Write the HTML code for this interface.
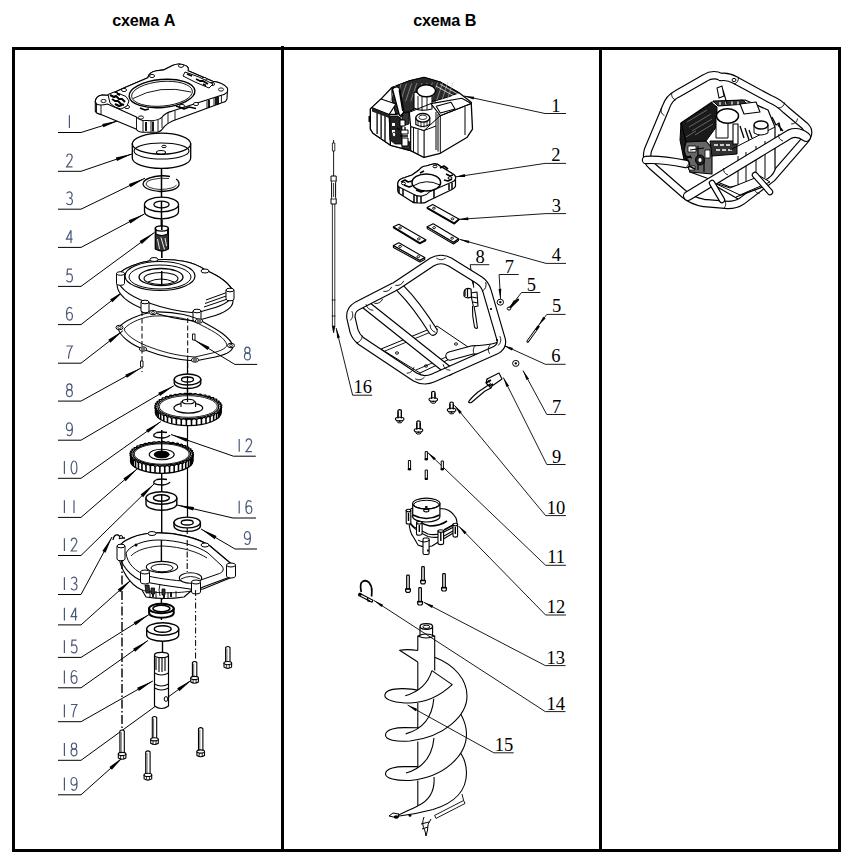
<!DOCTYPE html>
<html><head><meta charset="utf-8"><style>
html,body{margin:0;padding:0;background:#fff;width:856px;height:855px;overflow:hidden}
svg{position:absolute;left:0;top:0;display:block}
</style></head><body>
<svg width="856" height="855" viewBox="0 0 856 855">
<g fill="#000"><rect x="12" y="47" width="829" height="3"/><rect x="12" y="849" width="829" height="3"/><rect x="12" y="47" width="3" height="805"/><rect x="838" y="47" width="3" height="805"/><rect x="281" y="46" width="3" height="806"/><rect x="599" y="47" width="3" height="805"/></g>
<text transform="translate(112.3,25.6) scale(1,1.03)" font-family="Liberation Sans" font-weight="bold" font-size="16.2px" fill="#000">схема А</text>
<text transform="translate(413.3,25.6) scale(1,1.03)" font-family="Liberation Sans" font-weight="bold" font-size="16.2px" fill="#000">схема В</text>
<g transform="translate(66.4,115.1)" fill="none" stroke="#4a5878" stroke-width="1.2"><g transform="translate(0,0)"><path d="M3,0.2 V13"/></g></g>
<g transform="translate(66.4,153.9)" fill="none" stroke="#4a5878" stroke-width="1.2"><g transform="translate(0,0)"><path d="M0.3,3 C0.5,1 1.5,0.1 3,0.1 C4.8,0.1 5.8,1.4 5.8,3.2 C5.8,5.6 4,7.2 0.2,12.9 H6.1"/></g></g>
<g transform="translate(66.4,191.79999999999998)" fill="none" stroke="#4a5878" stroke-width="1.2"><g transform="translate(0,0)"><path d="M0.3,1.6 C1,0.5 2,0.1 3,0.1 C4.8,0.1 5.7,1.4 5.7,3.1 C5.7,5 4.4,6.2 2.5,6.2 C4.6,6.2 6,7.5 6,9.5 C6,11.7 4.7,12.9 3,12.9 C1.6,12.9 0.6,12.3 0,11.2"/></g></g>
<g transform="translate(66.4,230.0)" fill="none" stroke="#4a5878" stroke-width="1.2"><g transform="translate(0,0)"><path d="M4.6,13 V0.2 L0,9.2 H6.2"/></g></g>
<g transform="translate(66.4,269.0)" fill="none" stroke="#4a5878" stroke-width="1.2"><g transform="translate(0,0)"><path d="M5.6,0.2 H1.1 L0.6,5.6 C1.3,5.1 2.2,4.8 3,4.8 C4.9,4.8 6,6.3 6,8.8 C6,11.5 4.7,12.9 3,12.9 C1.7,12.9 0.7,12.3 0.1,11.2"/></g></g>
<g transform="translate(66.4,307.20000000000005)" fill="none" stroke="#4a5878" stroke-width="1.2"><g transform="translate(0,0)"><path d="M5.6,1.6 C5.1,0.6 4.1,0.1 3.1,0.1 C1.1,0.1 0.1,2.6 0.1,7 C0.1,11 1.3,12.9 3.1,12.9 C4.9,12.9 6,11.5 6,9.1 C6,6.8 4.8,5.3 3.1,5.3 C1.6,5.3 0.6,6.3 0.1,8"/></g></g>
<g transform="translate(66.4,345.8)" fill="none" stroke="#4a5878" stroke-width="1.2"><g transform="translate(0,0)"><path d="M0,0.2 H6 C3.6,3.6 2.3,8 2.1,13"/></g></g>
<g transform="translate(66.4,383.70000000000005)" fill="none" stroke="#4a5878" stroke-width="1.2"><g transform="translate(0,0)"><ellipse cx="3" cy="3.2" rx="2.6" ry="3.1"/><ellipse cx="3" cy="9.4" rx="2.95" ry="3.5"/></g></g>
<g transform="translate(66.4,422.8)" fill="none" stroke="#4a5878" stroke-width="1.2"><g transform="translate(0,0)"><path d="M0.5,11.5 C1,12.4 2,12.9 3,12.9 C5,12.9 6,10.5 6,6 C6,2.1 4.8,0.1 3,0.1 C1.2,0.1 0,1.6 0,4 C0,6.3 1.2,7.8 2.9,7.8 C4.4,7.8 5.5,6.7 6,5"/></g></g>
<g transform="translate(61.4,460.90000000000003)" fill="none" stroke="#4a5878" stroke-width="1.2"><g transform="translate(0,0)"><path d="M3,0.2 V13"/></g><g transform="translate(9.6,0)"><ellipse cx="3" cy="6.5" rx="2.9" ry="6.4"/></g></g>
<g transform="translate(61.4,500.0)" fill="none" stroke="#4a5878" stroke-width="1.2"><g transform="translate(0,0)"><path d="M3,0.2 V13"/></g><g transform="translate(9.6,0)"><path d="M3,0.2 V13"/></g></g>
<g transform="translate(61.4,538.1)" fill="none" stroke="#4a5878" stroke-width="1.2"><g transform="translate(0,0)"><path d="M3,0.2 V13"/></g><g transform="translate(9.6,0)"><path d="M0.3,3 C0.5,1 1.5,0.1 3,0.1 C4.8,0.1 5.8,1.4 5.8,3.2 C5.8,5.6 4,7.2 0.2,12.9 H6.1"/></g></g>
<g transform="translate(61.4,577.1)" fill="none" stroke="#4a5878" stroke-width="1.2"><g transform="translate(0,0)"><path d="M3,0.2 V13"/></g><g transform="translate(9.6,0)"><path d="M0.3,1.6 C1,0.5 2,0.1 3,0.1 C4.8,0.1 5.7,1.4 5.7,3.1 C5.7,5 4.4,6.2 2.5,6.2 C4.6,6.2 6,7.5 6,9.5 C6,11.7 4.7,12.9 3,12.9 C1.6,12.9 0.6,12.3 0,11.2"/></g></g>
<g transform="translate(61.4,607.5)" fill="none" stroke="#4a5878" stroke-width="1.2"><g transform="translate(0,0)"><path d="M3,0.2 V13"/></g><g transform="translate(9.6,0)"><path d="M4.6,13 V0.2 L0,9.2 H6.2"/></g></g>
<g transform="translate(61.4,640.0)" fill="none" stroke="#4a5878" stroke-width="1.2"><g transform="translate(0,0)"><path d="M3,0.2 V13"/></g><g transform="translate(9.6,0)"><path d="M5.6,0.2 H1.1 L0.6,5.6 C1.3,5.1 2.2,4.8 3,4.8 C4.9,4.8 6,6.3 6,8.8 C6,11.5 4.7,12.9 3,12.9 C1.7,12.9 0.7,12.3 0.1,11.2"/></g></g>
<g transform="translate(61.4,670.4)" fill="none" stroke="#4a5878" stroke-width="1.2"><g transform="translate(0,0)"><path d="M3,0.2 V13"/></g><g transform="translate(9.6,0)"><path d="M5.6,1.6 C5.1,0.6 4.1,0.1 3.1,0.1 C1.1,0.1 0.1,2.6 0.1,7 C0.1,11 1.3,12.9 3.1,12.9 C4.9,12.9 6,11.5 6,9.1 C6,6.8 4.8,5.3 3.1,5.3 C1.6,5.3 0.6,6.3 0.1,8"/></g></g>
<g transform="translate(61.4,704.3000000000001)" fill="none" stroke="#4a5878" stroke-width="1.2"><g transform="translate(0,0)"><path d="M3,0.2 V13"/></g><g transform="translate(9.6,0)"><path d="M0,0.2 H6 C3.6,3.6 2.3,8 2.1,13"/></g></g>
<g transform="translate(61.4,742.9)" fill="none" stroke="#4a5878" stroke-width="1.2"><g transform="translate(0,0)"><path d="M3,0.2 V13"/></g><g transform="translate(9.6,0)"><ellipse cx="3" cy="3.2" rx="2.6" ry="3.1"/><ellipse cx="3" cy="9.4" rx="2.95" ry="3.5"/></g></g>
<g transform="translate(61.4,777.4)" fill="none" stroke="#4a5878" stroke-width="1.2"><g transform="translate(0,0)"><path d="M3,0.2 V13"/></g><g transform="translate(9.6,0)"><path d="M0.5,11.5 C1,12.4 2,12.9 3,12.9 C5,12.9 6,10.5 6,6 C6,2.1 4.8,0.1 3,0.1 C1.2,0.1 0,1.6 0,4 C0,6.3 1.2,7.8 2.9,7.8 C4.4,7.8 5.5,6.7 6,5"/></g></g>
<g transform="translate(244.4,347.0)" fill="none" stroke="#4a5878" stroke-width="1.2"><g transform="translate(0,0)"><ellipse cx="3" cy="3.2" rx="2.6" ry="3.1"/><ellipse cx="3" cy="9.4" rx="2.95" ry="3.5"/></g></g>
<g transform="translate(236.2,438.8)" fill="none" stroke="#4a5878" stroke-width="1.2"><g transform="translate(0,0)"><path d="M3,0.2 V13"/></g><g transform="translate(9.6,0)"><path d="M0.3,3 C0.5,1 1.5,0.1 3,0.1 C4.8,0.1 5.8,1.4 5.8,3.2 C5.8,5.6 4,7.2 0.2,12.9 H6.1"/></g></g>
<g transform="translate(236.2,500.6)" fill="none" stroke="#4a5878" stroke-width="1.2"><g transform="translate(0,0)"><path d="M3,0.2 V13"/></g><g transform="translate(9.6,0)"><path d="M5.6,1.6 C5.1,0.6 4.1,0.1 3.1,0.1 C1.1,0.1 0.1,2.6 0.1,7 C0.1,11 1.3,12.9 3.1,12.9 C4.9,12.9 6,11.5 6,9.1 C6,6.8 4.8,5.3 3.1,5.3 C1.6,5.3 0.6,6.3 0.1,8"/></g></g>
<g transform="translate(244.4,531.6)" fill="none" stroke="#4a5878" stroke-width="1.2"><g transform="translate(0,0)"><path d="M0.5,11.5 C1,12.4 2,12.9 3,12.9 C5,12.9 6,10.5 6,6 C6,2.1 4.8,0.1 3,0.1 C1.2,0.1 0,1.6 0,4 C0,6.3 1.2,7.8 2.9,7.8 C4.4,7.8 5.5,6.7 6,5"/></g></g>
<g stroke="#000" stroke-width="1" fill="none"><path d="M58,132.5 H81 L119,120.5"/><path d="M58,171.3 H81 L132.5,153.8"/><path d="M58,209.2 H81 L145,178.2"/><path d="M58,247.4 H81 L144.5,213.9"/><path d="M58,286.4 H81 L154.4,232.5"/><path d="M58,324.6 H81 L124.6,290.4"/><path d="M58,363.2 H81 L122.8,330.8"/><path d="M58,401.1 H81 L141,368"/><path d="M58,440.2 H81 L173.8,385.8"/><path d="M58,478.3 H81 L160.9,421.5"/><path d="M58,517.4 H81 L137.4,468.7"/><path d="M58,555.5 H81 L154,484"/><path d="M58,594.5 H81 L112,537"/><path d="M58,624.9 H81 L131.6,579.6"/><path d="M58,657.4 H81 L149,614.6"/><path d="M58,687.8 H81 L148,640.4"/><path d="M58,721.7 H81 L152.8,681"/><path d="M58,760.3 H81 L192,679.7"/><path d="M58,794.8 H81 L123.3,757"/><path d="M257.2,364.4 H234.8 L194,339.7"/><path d="M255.8,456.2 H233.4 L171,434.5"/><path d="M256,518 H233 L177,505"/><path d="M257,549 H235 L201,529"/></g>
<polygon points="119.00,120.50 102.25,123.90 103.33,127.34" fill="#000"/><polygon points="132.50,153.80 115.82,157.57 116.98,160.97" fill="#000"/><polygon points="145.00,178.20 128.92,183.99 130.48,187.23" fill="#000"/><polygon points="144.50,213.90 128.62,220.24 130.30,223.42" fill="#000"/><polygon points="154.40,232.50 139.63,241.11 141.76,244.01" fill="#000"/><polygon points="124.60,290.40 110.11,299.48 112.34,302.31" fill="#000"/><polygon points="122.80,330.80 108.26,339.79 110.47,342.64" fill="#000"/><polygon points="141.00,368.00 125.25,374.64 126.98,377.79" fill="#000"/><polygon points="173.80,385.80 158.22,392.84 160.04,395.95" fill="#000"/><polygon points="160.90,421.50 146.00,429.88 148.09,432.82" fill="#000"/><polygon points="137.40,468.70 123.36,478.45 125.71,481.17" fill="#000"/><polygon points="154.00,484.00 140.60,494.61 143.11,497.18" fill="#000"/><polygon points="112.00,537.00 102.35,551.11 105.52,552.82" fill="#000"/><polygon points="131.60,579.60 117.73,589.60 120.13,592.28" fill="#000"/><polygon points="149.00,614.60 133.65,622.13 135.57,625.18" fill="#000"/><polygon points="148.00,640.40 133.08,648.75 135.16,651.69" fill="#000"/><polygon points="152.80,681.00 137.12,687.82 138.90,690.95" fill="#000"/><polygon points="192.00,679.70 177.19,688.23 179.30,691.15" fill="#000"/><polygon points="123.30,757.00 109.42,766.99 111.82,769.67" fill="#000"/><polygon points="194.00,339.70 207.61,350.04 209.47,346.96" fill="#000"/><polygon points="171.00,434.50 186.47,441.78 187.65,438.38" fill="#000"/><polygon points="177.00,505.00 193.15,510.60 193.97,507.09" fill="#000"/><polygon points="201.00,529.00 214.74,539.17 216.57,536.07" fill="#000"/>
<g stroke="#000" stroke-width="0.9" fill="none"><path d="M566,113.5 H545 L464.1,96"/><path d="M566,163.4 H545 L455.1,177"/><path d="M566,213.6 H546 L458.3,219.4"/><path d="M566,263.4 H546 L459.4,239.3"/><path d="M540.3,292.5 H521.5 L508.9,308.7"/><path d="M565.6,314.4 H546.8 L538.4,325.6"/><path d="M565.6,364.3 H545.4 L503.3,345.2"/><path d="M518.7,274.5 H499.1 L500.5,298.9"/><path d="M565.6,414.5 H546.8 L523,370.5"/><path d="M489.3,264.7 H470.2 L473.8,287.7"/><path d="M565.6,464.5 H546.8 L503.3,377.5"/><path d="M565.9,515.6 H545.6 L454.4,405.3"/><path d="M565.9,565.3 H545.6 L427.7,452.4"/><path d="M565.9,615 H545.6 L458.6,526"/><path d="M565.5,665.6 H545.3 L423.7,602.2"/><path d="M565.5,711.6 H545.3 L374,600.5"/><path d="M513.7,752.8 H493.8 L407.6,705.1"/><path d="M372.2,395.2 H352.6 L336.2,328.1"/></g>
<polygon points="464.10,96.00 473.58,99.48 474.17,96.75" fill="#000"/><polygon points="455.10,177.00 465.20,176.89 464.78,174.12" fill="#000"/><polygon points="458.30,219.40 468.37,220.14 468.19,217.34" fill="#000"/><polygon points="459.40,239.30 468.66,243.33 469.41,240.63" fill="#000"/><polygon points="508.90,308.70 516.14,301.67 513.93,299.95" fill="#000"/><polygon points="538.40,325.60 545.52,318.44 543.28,316.76" fill="#000"/><polygon points="503.30,345.20 511.83,350.61 512.99,348.06" fill="#000"/><polygon points="500.50,298.90 501.32,288.84 498.53,289.00" fill="#000"/><polygon points="523.00,370.50 526.53,379.96 528.99,378.63" fill="#000"/><polygon points="473.80,287.70 473.64,277.60 470.87,278.04" fill="#000"/><polygon points="503.30,377.50 506.52,387.07 509.02,385.82" fill="#000"/><polygon points="454.40,405.30 459.69,413.90 461.85,412.11" fill="#000"/><polygon points="427.70,452.40 433.95,460.33 435.89,458.31" fill="#000"/><polygon points="458.60,526.00 464.59,534.13 466.59,532.17" fill="#000"/><polygon points="423.70,602.20 431.92,608.06 433.21,605.58" fill="#000"/><polygon points="374.00,600.50 381.63,607.12 383.15,604.77" fill="#000"/><polygon points="407.60,705.10 415.67,711.17 417.03,708.72" fill="#000"/><polygon points="336.20,328.10 337.21,338.15 339.93,337.48" fill="#000"/>
<g font-family="Liberation Serif" font-size="18.5px" fill="#000" text-anchor="middle"><text x="555.9" y="111.5">1</text><text x="555.9" y="161.4">2</text><text x="556.4" y="211.6">3</text><text x="556.4" y="261.4">4</text><text x="531.3" y="290.5">5</text><text x="556.6" y="312.4">5</text><text x="555.9" y="362.3">6</text><text x="509.3" y="272.5">7</text><text x="556.6" y="412.5">7</text><text x="480.1" y="262.7">8</text><text x="556.6" y="462.5">9</text><text x="556.1" y="513.6">10</text><text x="556.1" y="563.3">11</text><text x="556.1" y="613">12</text><text x="555.8" y="663.6">13</text><text x="555.8" y="709.6">14</text><text x="504.1" y="750.8">15</text><text x="362.8" y="393.2">16</text></g>
<g stroke-linejoin="round"><path d="M95.3,101.4 Q96,96 102,95 L108,95.3 L125,87.4 L147.8,77.8 Q149,72 156.6,70.8 L163.6,69.9 L172.4,65.5 Q180,62 187.2,66.4 Q189,68 188.1,70.8 L212.7,81.3 Q224,83 227.5,88.3 L227,98.8 Q226,102 223.2,102.3 L172.4,121 Q166,124 162.7,128.6 Q160,132.5 156,132.3 L143,132.3 Q138,132 136,129 L101,114.6 Q96,113.5 95.3,111 Z" fill="#fff" stroke="#000" stroke-width="1.1"/><path d="M95.3,101.4 Q96,96 102,95 L108,95.3 L125,87.4 L147.8,77.8 Q149,72 156.6,70.8 L163.6,69.9 L172.4,65.5 Q180,62 187.2,66.4 Q189,68 188.1,70.8 L212.7,81.3 Q224,83 227.5,88.3 Q228,92 226.7,92.7 Q224,95 221.4,95.3 L172.4,111.1 Q165,113 162,117 Q159,120.5 151,120.7 L142,120.2 Q138,119 136.5,117 L107.5,104 Q100,106 96.5,104 Z" fill="#fff" stroke="#000" stroke-width="1.1"/><path d="M96.5,104 V112 M101,105 V114.6 M136.5,117 V129 M143,120.2 V132 M151,120.7 V132.3 M158,120 V131.5 M162,117 V128 M221.4,95.3 V102.5 M214,98 V105.5 M207,100.5 V108 M175,110.5 V120 M168,112.5 V123" fill="none" stroke="#000" stroke-width="0.9"/><path d="M146,122 V131 M153,121.5 V131.5 M209,100 v8 M216,97 v8 M218,96.5 v8" stroke="#000" stroke-width="1.8"/><ellipse cx="162" cy="93.5" rx="33" ry="14" fill="#fff" stroke="#000" stroke-width="1.4" transform="rotate(-5 162 93.5)"/><ellipse cx="162" cy="93.8" rx="30.5" ry="12.3" fill="none" stroke="#000" stroke-width="0.9" transform="rotate(-5 162 93.8)"/><path d="M133,98.5 Q160,84 191,92" fill="none" stroke="#000" stroke-width="0.9"/><ellipse cx="103.5" cy="101" rx="2.6" ry="1.6" fill="#fff" stroke="#000" stroke-width="0.9"/><ellipse cx="141" cy="117.5" rx="2.6" ry="1.6" fill="#fff" stroke="#000" stroke-width="0.9"/><ellipse cx="181" cy="65.8" rx="2.6" ry="1.6" fill="#fff" stroke="#000" stroke-width="0.9"/><ellipse cx="221" cy="89.5" rx="2.6" ry="1.6" fill="#fff" stroke="#000" stroke-width="0.9"/><ellipse cx="116" cy="94" rx="2.6" ry="1.6" fill="#fff" stroke="#000" stroke-width="0.9"/><ellipse cx="124" cy="90" rx="2.6" ry="1.6" fill="#fff" stroke="#000" stroke-width="0.9"/><ellipse cx="204" cy="79" rx="2.6" ry="1.6" fill="#fff" stroke="#000" stroke-width="0.9"/><ellipse cx="196" cy="104" rx="2.6" ry="1.6" fill="#fff" stroke="#000" stroke-width="0.9"/><ellipse cx="127" cy="107" rx="2.6" ry="1.6" fill="#fff" stroke="#000" stroke-width="0.9"/><ellipse cx="212" cy="84" rx="2.6" ry="1.6" fill="#fff" stroke="#000" stroke-width="0.9"/><ellipse cx="152" cy="76" rx="2.6" ry="1.6" fill="#fff" stroke="#000" stroke-width="0.9"/><ellipse cx="182" cy="106" rx="2.6" ry="1.6" fill="#fff" stroke="#000" stroke-width="0.9"/><path d="M108,94.5 L114,92 L120,94 L126,96.5 L129,101 L127,106 L121,109 L115,107 L110,103 Z" fill="#fff" stroke="#000" stroke-width="1"/><path d="M110,95 l4,2 l2,-1 l3,3 l3,0 l3,3 M112,99 l3,2 l3,0 l3,3 l3,1 M115,104 l4,2 l3,-1 M117,93.5 l3,1.5" fill="none" stroke="#000" stroke-width="2"/><path d="M185,72 L199,77 L213,84 L209,88 L195,82 L183,76 Z" fill="#fff" stroke="#000" stroke-width="1"/><path d="M187,74 l5,2 M196,79 l4,2 l3,0 l5,3 M203,84 l3,1.5" fill="none" stroke="#000" stroke-width="1.8"/><path d="M176,106 l8,3 l5,-2 l7,1.5 M140,108 l5,2 l4,-1" fill="none" stroke="#000" stroke-width="1.4"/><path d="M132.3,143.7 V157.89999999999998 A29.2,10.5 0 0 0 190.7,157.89999999999998 V143.7 Z" fill="#fff" stroke="#000" stroke-width="1.3"/><ellipse cx="161.5" cy="143.7" rx="29.2" ry="10.5" fill="#fff" stroke="#000" stroke-width="1.3"/><ellipse cx="161.5" cy="151" rx="27.5" ry="8" fill="none" stroke="#000" stroke-width="1.1"/><ellipse cx="161" cy="152.5" rx="4.5" ry="2" fill="none" stroke="#000" stroke-width="1.1"/><ellipse cx="164" cy="146.5" rx="2.2" ry="1.2" fill="none" stroke="#000" stroke-width="1"/><path d="M161.5,168 V232" stroke="#000" stroke-width="1.5"/><path d="M170,176.5 Q163,175 155,176.5 Q143,179 143,184 Q144,190 160,191.5 Q177,191 179,185 Q179.5,181 176,179" fill="none" stroke="#000" stroke-width="1.3"/><path d="M169,178.5 Q160,177.5 152,179.5 Q146,181 146,184 Q147,188.5 160,189.5 Q174,189 176.5,185" fill="none" stroke="#000" stroke-width="0.8"/><path d="M144.5,204.5 V211.5 A17,7.3 0 0 0 178.5,211.5 V204.5 Z" fill="#fff" stroke="#000" stroke-width="1.3"/><ellipse cx="161.5" cy="204.5" rx="17" ry="7.3" fill="#fff" stroke="#000" stroke-width="1.3"/><ellipse cx="161.5" cy="204.5" rx="7.6" ry="3.3" fill="#fff" stroke="#000" stroke-width="1.3"/><path d="M161.5,201 V232" stroke="#000" stroke-width="1.5"/><path d="M155.3,228 V249 Q161.8,253 168.4,249 V228 Z" fill="#333" stroke="#000" stroke-width="1.3"/><path d="M156,229 V234 Q161.8,237 167.6,234 V229 Z" fill="#fff" stroke="#000" stroke-width="1.2"/><ellipse cx="161.8" cy="228.5" rx="6.4" ry="2.6" fill="#fff" stroke="#000" stroke-width="1.4"/><path d="M157.5,239 l2,10 M161,237.5 l3.5,12 M165,238 l1.5,8" stroke="#fff" stroke-width="0.9" fill="none"/><path d="M161.8,220 V230 M161.8,251 V258" stroke="#000" stroke-width="1.6"/><path d="M117,276 V284 C117,296 130,304 146,310 C160,315 180,320 196,321 L210,317 C225,313 233,308 233,301 V293 C232,285 220,276 205,270 C195,262 175,258 154,260 C140,262 122,268 117,276 Z" fill="#fff" stroke="#000" stroke-width="1.1"/><path d="M117,276 C122,268 140,262 154,260 C175,258 195,262 205,270 C220,276 232,285 233,293 C233,300 225,305 210,309 L196,313 C180,312 160,307 146,302 C130,296 117,288 117,276 Z" fill="#fff" stroke="#000" stroke-width="1.1"/><path d="M206,300 L228,292 M205,303.5 L229,295 M204,307 L229,298.5" stroke="#000" stroke-width="1"/><ellipse cx="160" cy="276" rx="35" ry="14.5" fill="#fff" stroke="#000" stroke-width="1.2"/><ellipse cx="160" cy="277" rx="31" ry="12" fill="none" stroke="#000" stroke-width="1"/><ellipse cx="161" cy="277" rx="22" ry="8.5" fill="#fff" stroke="#000" stroke-width="1.3"/><ellipse cx="161" cy="278.5" rx="17" ry="6" fill="none" stroke="#000" stroke-width="1.1"/><path d="M148,282 Q161,276 174,282" fill="none" stroke="#000" stroke-width="1"/><path d="M161.7,271 V284" stroke="#000" stroke-width="1.5"/><path d="M116.5,273.5 V283.5 A4,1.8 0 0 0 124.5,283.5 V273.5 Z" fill="#fff" stroke="#000" stroke-width="1"/><ellipse cx="120.5" cy="273.5" rx="4" ry="1.8" fill="#fff" stroke="#000" stroke-width="1"/><path d="M141,302 V311 A4,1.8 0 0 0 149,311 V302 Z" fill="#fff" stroke="#000" stroke-width="1"/><ellipse cx="145" cy="302" rx="4" ry="1.8" fill="#fff" stroke="#000" stroke-width="1"/><path d="M193,311 V320 A4,1.8 0 0 0 201,320 V311 Z" fill="#fff" stroke="#000" stroke-width="1"/><ellipse cx="197" cy="311" rx="4" ry="1.8" fill="#fff" stroke="#000" stroke-width="1"/><path d="M226,290 V299 A4,1.8 0 0 0 234,299 V290 Z" fill="#fff" stroke="#000" stroke-width="1"/><ellipse cx="230" cy="290" rx="4" ry="1.8" fill="#fff" stroke="#000" stroke-width="1"/><ellipse cx="154" cy="259.5" rx="4" ry="2" fill="#fff" stroke="#000" stroke-width="1"/><ellipse cx="205" cy="271" rx="4" ry="2" fill="#fff" stroke="#000" stroke-width="1"/><path d="M142,311 V372" stroke="#000" stroke-width="1" stroke-dasharray="5,2.5"/><path d="M187.7,318 V372" stroke="#000" stroke-width="1" stroke-dasharray="5,2.5"/><path d="M118,328 C125,320 140,314 153,312 C175,311 195,316 205,323 C218,330 230,337 233,346 C233,352 222,356 210,358 L195,361 C175,360 158,355 145,350 C132,345 120,337 118,328 Z" fill="none" stroke="#000" stroke-width="1.1"/><path d="M124,329 C130,322 143,317 154,316 C174,315 193,320 203,326 C215,332 225,338 227,345 C226,349 218,352 208,354 L195,357 C176,356 160,351 147,346 C135,341 126,335 124,329 Z" fill="none" stroke="#000" stroke-width="0.9"/><ellipse cx="119.5" cy="327.5" rx="3.6" ry="2.2" fill="#fff" stroke="#000" stroke-width="1"/><ellipse cx="119.5" cy="327.5" rx="1.6" ry="1" fill="none" stroke="#000" stroke-width="0.8"/><ellipse cx="153" cy="312.5" rx="3.6" ry="2.2" fill="#fff" stroke="#000" stroke-width="1"/><ellipse cx="153" cy="312.5" rx="1.6" ry="1" fill="none" stroke="#000" stroke-width="0.8"/><ellipse cx="199" cy="321" rx="3.6" ry="2.2" fill="#fff" stroke="#000" stroke-width="1"/><ellipse cx="199" cy="321" rx="1.6" ry="1" fill="none" stroke="#000" stroke-width="0.8"/><ellipse cx="231" cy="345.5" rx="3.6" ry="2.2" fill="#fff" stroke="#000" stroke-width="1"/><ellipse cx="231" cy="345.5" rx="1.6" ry="1" fill="none" stroke="#000" stroke-width="0.8"/><ellipse cx="195" cy="360" rx="3.6" ry="2.2" fill="#fff" stroke="#000" stroke-width="1"/><ellipse cx="195" cy="360" rx="1.6" ry="1" fill="none" stroke="#000" stroke-width="0.8"/><ellipse cx="143" cy="349" rx="3.6" ry="2.2" fill="#fff" stroke="#000" stroke-width="1"/><ellipse cx="143" cy="349" rx="1.6" ry="1" fill="none" stroke="#000" stroke-width="0.8"/><rect x="192.5" y="334" width="2.5" height="6" fill="#fff" stroke="#000" stroke-width="0.9"/><rect x="140.5" y="361" width="2.5" height="6" fill="#fff" stroke="#000" stroke-width="0.9"/><path d="M187.5,360 V518" stroke="#000" stroke-width="1.2"/><path d="M174.2,379.5 V383.0 A13.3,5.5 0 0 0 200.8,383.0 V379.5 Z" fill="#fff" stroke="#000" stroke-width="1.3"/><ellipse cx="187.5" cy="379.5" rx="13.3" ry="5.5" fill="#fff" stroke="#000" stroke-width="1.3"/><ellipse cx="187.5" cy="379.5" rx="6" ry="2.5" fill="#fff" stroke="#000" stroke-width="1.3"/><path d="M187.5,376 V400" stroke="#000" stroke-width="1.2"/><path d="M155.5,406.5 V412.5 A32.8,13.1 0 0 0 221.10000000000002,412.5 V406.5 Z" fill="#fff" stroke="#000" stroke-width="1.3"/><path d="M221.04,407.27 v6.0 M220.34,409.31 v6.0 M218.84,411.27 v6.0 M216.60,413.12 v6.0 M213.65,414.81 v6.0 M210.09,416.29 v6.0 M205.98,417.53 v6.0 M201.44,418.50 v6.0 M196.58,419.18 v6.0 M191.51,419.54 v6.0 M186.37,419.58 v6.0 M181.27,419.30 v6.0 M176.35,418.70 v6.0 M171.71,417.80 v6.0 M167.49,416.63 v6.0 M163.78,415.20 v6.0 M160.68,413.56 v6.0 M158.25,411.75 v6.0 M156.56,409.81 v6.0 M155.66,407.78 v6.0" stroke="#000" stroke-width="1.6"/><polygon points="220.3,406.5 221.9,407.0 221.8,407.5 220.1,408.0 219.9,408.5 221.3,409.1 221.0,409.6 219.1,409.9 218.7,410.4 219.8,411.1 219.3,411.6 217.4,411.8 216.8,412.2 217.6,413.0 216.9,413.4 214.9,413.5 214.2,413.9 214.7,414.7 213.8,415.1 211.8,415.1 210.9,415.4 211.1,416.2 210.1,416.6 208.1,416.4 207.1,416.7 207.0,417.5 205.9,417.8 203.9,417.5 202.8,417.7 202.4,418.5 201.2,418.7 199.4,418.3 198.2,418.5 197.4,419.2 196.1,419.4 194.5,418.9 193.3,418.9 192.2,419.6 190.9,419.7 189.6,419.1 188.3,419.1 187.0,419.7 185.7,419.7 184.5,419.0 183.3,418.9 181.7,419.5 180.5,419.4 179.6,418.6 178.4,418.5 176.7,418.9 175.4,418.7 174.9,417.9 173.8,417.7 171.9,418.0 170.7,417.8 170.5,417.0 169.5,416.7 167.5,416.9 166.5,416.6 166.6,415.8 165.7,415.4 163.6,415.5 162.8,415.1 163.2,414.3 162.4,413.9 160.4,413.9 159.7,413.4 160.4,412.7 159.8,412.2 157.8,412.0 157.3,411.6 158.3,410.9 157.9,410.4 156.0,410.1 155.6,409.6 156.9,409.0 156.7,408.5 154.9,408.1 154.8,407.5 156.3,407.0 156.3,406.5 154.7,406.0 154.8,405.5 156.5,405.0 156.7,404.5 155.3,403.9 155.6,403.4 157.5,403.1 157.9,402.6 156.8,401.9 157.3,401.4 159.2,401.2 159.8,400.8 159.0,400.0 159.7,399.6 161.7,399.5 162.4,399.1 161.9,398.3 162.8,397.9 164.8,397.9 165.7,397.6 165.5,396.8 166.5,396.4 168.5,396.6 169.5,396.3 169.6,395.5 170.7,395.2 172.7,395.5 173.8,395.3 174.2,394.5 175.4,394.3 177.2,394.7 178.4,394.5 179.2,393.8 180.5,393.6 182.1,394.1 183.3,394.1 184.4,393.4 185.7,393.3 187.0,393.9 188.3,393.9 189.6,393.3 190.9,393.3 192.1,394.0 193.3,394.1 194.9,393.5 196.1,393.6 197.0,394.4 198.2,394.5 199.9,394.1 201.2,394.3 201.7,395.1 202.8,395.3 204.7,395.0 205.9,395.2 206.1,396.0 207.1,396.3 209.1,396.1 210.1,396.4 210.0,397.2 210.9,397.6 213.0,397.5 213.8,397.9 213.4,398.7 214.2,399.1 216.2,399.1 216.9,399.6 216.2,400.3 216.8,400.8 218.8,401.0 219.3,401.4 218.3,402.1 218.7,402.6 220.6,402.9 221.0,403.4 219.7,404.0 219.9,404.5 221.7,404.9 221.8,405.5 220.3,406.0" fill="#fff" stroke="#000" stroke-width="1.2"/><ellipse cx="188.3" cy="406.5" rx="30.5" ry="12.009375" fill="none" stroke="#000" stroke-width="1.2"/><ellipse cx="188.3" cy="406.5" rx="29" ry="10.8" fill="none" stroke="#000" stroke-width="0.9"/><ellipse cx="188.3" cy="408" rx="14.4" ry="5.2" fill="#fff" stroke="#000" stroke-width="1.2"/><path d="M181,407 V402 Q188.3,399 195.6,402 V407" fill="#fff" stroke="#000" stroke-width="1.1"/><ellipse cx="188.3" cy="401.5" rx="6" ry="2.3" fill="#fff" stroke="#000" stroke-width="1.1"/><path d="M187.5,390 V402" stroke="#000" stroke-width="1.2"/><path d="M167,432.5 Q162,431.5 157,432.5 Q153,434 154,436.5 Q157,438 163,438 Q169,437 170,435" fill="none" stroke="#000" stroke-width="1.3"/><path d="M161.7,430 V500" stroke="#000" stroke-width="1.4"/><path d="M130.59999999999997,454 V461 A31.1,12.3 0 0 0 192.8,461 V454 Z" fill="#fff" stroke="#000" stroke-width="1.3"/><path d="M192.75,454.72 v7.0 M192.08,456.64 v7.0 M190.66,458.48 v7.0 M188.53,460.22 v7.0 M185.74,461.80 v7.0 M182.36,463.19 v7.0 M178.47,464.36 v7.0 M174.16,465.27 v7.0 M169.55,465.90 v7.0 M164.75,466.24 v7.0 M159.87,466.28 v7.0 M155.03,466.01 v7.0 M150.36,465.45 v7.0 M145.97,464.61 v7.0 M141.97,463.51 v7.0 M138.45,462.17 v7.0 M135.51,460.63 v7.0 M133.21,458.93 v7.0 M131.61,457.11 v7.0 M130.75,455.21 v7.0" stroke="#000" stroke-width="1.6"/><polygon points="192.0,454.0 193.6,454.5 193.5,455.0 191.8,455.4 191.6,455.8 193.0,456.4 192.7,456.9 190.9,457.2 190.5,457.6 191.6,458.3 191.2,458.8 189.2,458.9 188.7,459.4 189.5,460.1 188.9,460.5 186.9,460.6 186.2,460.9 186.8,461.7 186.0,462.1 183.9,462.0 183.1,462.3 183.4,463.1 182.4,463.4 180.5,463.3 179.5,463.5 179.4,464.3 178.4,464.6 176.5,464.3 175.5,464.5 175.1,465.3 173.9,465.5 172.2,465.1 171.1,465.2 170.4,466.0 169.1,466.1 167.6,465.6 166.4,465.7 165.4,466.3 164.2,466.4 162.9,465.8 161.7,465.8 160.4,466.4 159.2,466.4 158.1,465.7 157.0,465.7 155.5,466.2 154.3,466.1 153.5,465.4 152.3,465.2 150.7,465.7 149.5,465.5 149.0,464.7 147.9,464.5 146.1,464.8 145.0,464.6 144.9,463.8 143.9,463.5 142.0,463.8 141.0,463.4 141.1,462.7 140.3,462.3 138.3,462.4 137.4,462.1 137.9,461.3 137.2,460.9 135.2,460.9 134.5,460.5 135.3,459.8 134.7,459.4 132.7,459.2 132.2,458.8 133.3,458.1 132.9,457.6 131.0,457.4 130.7,456.9 132.0,456.3 131.8,455.8 130.0,455.5 129.9,455.0 131.4,454.5 131.4,454.0 129.8,453.5 129.9,453.0 131.6,452.6 131.8,452.2 130.4,451.6 130.7,451.1 132.5,450.8 132.9,450.4 131.8,449.7 132.2,449.2 134.2,449.1 134.7,448.6 133.9,447.9 134.5,447.5 136.5,447.4 137.2,447.1 136.6,446.3 137.4,445.9 139.5,446.0 140.3,445.7 140.0,444.9 141.0,444.6 142.9,444.7 143.9,444.5 144.0,443.7 145.0,443.4 146.9,443.7 147.9,443.5 148.3,442.7 149.5,442.5 151.2,442.9 152.3,442.8 153.0,442.0 154.3,441.9 155.8,442.4 157.0,442.3 158.0,441.7 159.2,441.6 160.5,442.2 161.7,442.2 163.0,441.6 164.2,441.6 165.3,442.3 166.4,442.3 167.9,441.8 169.1,441.9 169.9,442.6 171.1,442.8 172.7,442.3 173.9,442.5 174.4,443.3 175.5,443.5 177.3,443.2 178.4,443.4 178.5,444.2 179.5,444.5 181.4,444.2 182.4,444.6 182.3,445.3 183.1,445.7 185.1,445.6 186.0,445.9 185.5,446.7 186.2,447.1 188.2,447.1 188.9,447.5 188.1,448.2 188.7,448.6 190.7,448.8 191.2,449.2 190.1,449.9 190.5,450.4 192.4,450.6 192.7,451.1 191.4,451.7 191.6,452.2 193.4,452.5 193.5,453.0 192.0,453.5" fill="#fff" stroke="#000" stroke-width="1.2"/><ellipse cx="161.7" cy="454" rx="28.8" ry="11.215841584158417" fill="none" stroke="#000" stroke-width="1.2"/><ellipse cx="161.7" cy="454" rx="27.5" ry="10.2" fill="none" stroke="#000" stroke-width="0.9"/><ellipse cx="161.7" cy="454.5" rx="12.5" ry="5.2" fill="#fff" stroke="#000" stroke-width="1.1"/><ellipse cx="161.7" cy="454.5" rx="7.5" ry="3.4" fill="#000" stroke="#000" stroke-width="1"/><path d="M161.7,440 V452" stroke="#000" stroke-width="1.4"/><path d="M167,479.5 Q162,478.5 157,479.5 Q153,481 154,483.5 Q157,485 163,485 Q169,484 170,482" fill="none" stroke="#000" stroke-width="1.3"/><path d="M146.0,498 V504 A15.4,6.2 0 0 0 176.8,504 V498 Z" fill="#fff" stroke="#000" stroke-width="1.4"/><ellipse cx="161.4" cy="498" rx="15.4" ry="6.2" fill="#fff" stroke="#000" stroke-width="1.4"/><ellipse cx="161.4" cy="498" rx="8" ry="3.2" fill="#fff" stroke="#000" stroke-width="1.4"/><path d="M161.7,495 V600" stroke="#000" stroke-width="1.4"/><path d="M174.0,522.5 V526.0 A13.2,5.4 0 0 0 200.39999999999998,526.0 V522.5 Z" fill="#fff" stroke="#000" stroke-width="1.4"/><ellipse cx="187.2" cy="522.5" rx="13.2" ry="5.4" fill="#fff" stroke="#000" stroke-width="1.4"/><ellipse cx="187.2" cy="522.5" rx="6" ry="2.5" fill="#fff" stroke="#000" stroke-width="1.3"/><path d="M187.2,528 V590" stroke="#000" stroke-width="1.1" stroke-dasharray="6,2,1.5,2"/><path d="M113,540 Q114,534 118,535 Q121,537 119,539 M118,535 l4,3 h3" fill="none" stroke="#000" stroke-width="1.3"/><ellipse cx="121" cy="537" rx="1.5" ry="1.5" fill="#fff" stroke="#000" stroke-width="1"/><path d="M118,552 C120,570 130,585 142,590 L146,597 Q165,600 184,597 L191,591 L203,589 L230,578 C236,575 236,566 229,562 L210,546 C198,538 175,532 155,533 C140,533 120,540 118,552 Z" fill="#fff" stroke="#000" stroke-width="1.1"/><path d="M118,549 C120,540 140,533 155,533 C175,532 198,538 210,546 L229,562 C236,566 236,574 230,577 L203,587 C199,590 193,590 190,589 C175,587 160,585 145,582 C130,577 120,565 118,549 Z" fill="#fff" stroke="#000" stroke-width="1.1"/><path d="M126,553 C130,545 145,540 158,540 C178,540 198,546 208,553 L222,566 C225,570 222,573 218,574 L195,582 C180,581 160,579 148,576 C135,572 127,563 126,553 Z" fill="#fff" stroke="#000" stroke-width="1"/><path d="M131,556 C136,550 150,546 163,546 C182,547 198,552 207,558" fill="none" stroke="#000" stroke-width="0.9"/><path d="M142,590 C150,593 175,594 191,591 M150,590 v7 M156,591 v7 M168,592 v6 M176,591 v6 M160,584 Q158,590 160,596" fill="none" stroke="#000" stroke-width="0.9"/><path d="M153,592 v5 M164,593 v5 M171,592 v5" stroke="#000" stroke-width="1.8"/><ellipse cx="162" cy="567" rx="15.7" ry="5.6" fill="#fff" stroke="#000" stroke-width="1.1"/><ellipse cx="162" cy="568" rx="11" ry="3.8" fill="none" stroke="#000" stroke-width="1"/><ellipse cx="190.5" cy="578" rx="11.2" ry="5.2" fill="#fff" stroke="#000" stroke-width="1.1"/><path d="M181,579 Q190.5,574 200,579" fill="none" stroke="#000" stroke-width="0.9"/><path d="M145,585 l1,8 h4 l-1,-8 Z M151,588 l0.5,6 h3 v-6 Z M162,589 v6 h3 v-6 Z" fill="#333" stroke="#000" stroke-width="0.8"/><path d="M117,546 V559 A4,1.8 0 0 0 125,559 V546 Z" fill="#fff" stroke="#000" stroke-width="1"/><ellipse cx="121" cy="546" rx="4" ry="1.8" fill="#fff" stroke="#000" stroke-width="1"/><path d="M140.5,572 V582 A4.5,2 0 0 0 149.5,582 V572 Z" fill="#fff" stroke="#000" stroke-width="1"/><ellipse cx="145" cy="572" rx="4.5" ry="2" fill="#fff" stroke="#000" stroke-width="1"/><path d="M191.5,582 V592 A4.5,2 0 0 0 200.5,592 V582 Z" fill="#fff" stroke="#000" stroke-width="1"/><ellipse cx="196" cy="582" rx="4.5" ry="2" fill="#fff" stroke="#000" stroke-width="1"/><path d="M226.5,565 V576 A4.5,2 0 0 0 235.5,576 V565 Z" fill="#fff" stroke="#000" stroke-width="1"/><ellipse cx="231" cy="565" rx="4.5" ry="2" fill="#fff" stroke="#000" stroke-width="1"/><ellipse cx="152" cy="533.5" rx="4" ry="2" fill="#fff" stroke="#000" stroke-width="1"/><ellipse cx="205" cy="545" rx="4" ry="2" fill="#fff" stroke="#000" stroke-width="1"/><ellipse cx="136" cy="545" rx="1.5" ry="1.5" fill="#000"/><path d="M161.4,540 V562" stroke="#000" stroke-width="1.4"/><path d="M187.2,540 V572" stroke="#000" stroke-width="1.1" stroke-dasharray="6,2,1.5,2"/><path d="M122,560 V732" stroke="#000" stroke-width="1.4" stroke-dasharray="9,2.5,1.5,2.5"/><path d="M195.6,590 V662" stroke="#000" stroke-width="1" stroke-dasharray="6,2.5,1.5,2.5"/><path d="M149.1,608.5 V613.0 A12.3,4.8 0 0 0 173.70000000000002,613.0 V608.5 Z" fill="#fff" stroke="#000" stroke-width="2.0"/><ellipse cx="161.4" cy="608.5" rx="12.3" ry="4.8" fill="#fff" stroke="#000" stroke-width="2.0"/><ellipse cx="161.4" cy="608.5" rx="8.5" ry="3.2" fill="#fff" stroke="#000" stroke-width="1.6"/><path d="M161.4,598 V604 M161.4,617 V620" stroke="#000" stroke-width="1.4"/><path d="M146.7,629 V635 A16,6.2 0 0 0 178.7,635 V629 Z" fill="#fff" stroke="#000" stroke-width="1.4"/><ellipse cx="162.7" cy="629" rx="16" ry="6.2" fill="#fff" stroke="#000" stroke-width="1.4"/><ellipse cx="162.7" cy="629" rx="8.5" ry="3.3" fill="#fff" stroke="#000" stroke-width="1.4"/><path d="M162.5,641 V653" stroke="#000" stroke-width="1.4"/><path d="M154.5,655 V706 Q161.5,711 168.5,706 V655 Z" fill="#fff" stroke="#000" stroke-width="1.2"/><ellipse cx="161.5" cy="655" rx="7" ry="2.6" fill="#fff" stroke="#000" stroke-width="1.2"/><path d="M156,658 v12 M159,658 v14 M162,658 v14 M165,658 v13 M154.5,673 Q161.5,677 168.5,673 M154.5,684 Q161.5,688 168.5,684 M154.5,688 Q161.5,692 168.5,688" fill="none" stroke="#000" stroke-width="1.1"/><ellipse cx="166" cy="699" rx="1.8" ry="2.4" fill="#fff" stroke="#000" stroke-width="1"/><path d="M192.4,678.0 V662.5 Q194.6,660.5 196.79999999999998,662.5 V678.0" fill="#fff" stroke="#000" stroke-width="1.1"/><path d="M193.70000000000002,663.5 V678.0" stroke="#000" stroke-width="0.6"/><path d="M190.79999999999998,678.0 V682.0 Q194.6,684.5 198.4,682.0 V678.0 Z" fill="#fff" stroke="#000" stroke-width="1.1"/><ellipse cx="194.6" cy="678.0" rx="3.8" ry="1.6" fill="#fff" stroke="#000" stroke-width="1.1"/><path d="M193.1,679.5 V683.0 M196.1,679.5 V683.0" stroke="#000" stroke-width="0.8"/><path d="M225.60000000000002,663.1 V647.5 Q227.8,645.5 230.0,647.5 V663.1" fill="#fff" stroke="#000" stroke-width="1.1"/><path d="M226.90000000000003,648.5 V663.1" stroke="#000" stroke-width="0.6"/><path d="M224.0,663.1 V667.1 Q227.8,669.6 231.60000000000002,667.1 V663.1 Z" fill="#fff" stroke="#000" stroke-width="1.1"/><ellipse cx="227.8" cy="663.1" rx="3.8" ry="1.6" fill="#fff" stroke="#000" stroke-width="1.1"/><path d="M226.3,664.6 V668.1 M229.3,664.6 V668.1" stroke="#000" stroke-width="0.8"/><path d="M152.3,739.3 V717.5 Q154.5,715.5 156.7,717.5 V739.3" fill="#fff" stroke="#000" stroke-width="1.1"/><path d="M153.60000000000002,718.5 V739.3" stroke="#000" stroke-width="0.6"/><path d="M150.7,739.3 V743.3 Q154.5,745.8 158.3,743.3 V739.3 Z" fill="#fff" stroke="#000" stroke-width="1.1"/><ellipse cx="154.5" cy="739.3" rx="3.8" ry="1.6" fill="#fff" stroke="#000" stroke-width="1.1"/><path d="M153.0,740.8 V744.3 M156.0,740.8 V744.3" stroke="#000" stroke-width="0.8"/><path d="M198.5,751.5 V728.6 Q200.7,726.6 202.89999999999998,728.6 V751.5" fill="#fff" stroke="#000" stroke-width="1.1"/><path d="M199.8,729.6 V751.5" stroke="#000" stroke-width="0.6"/><path d="M196.89999999999998,751.5 V755.5 Q200.7,758 204.5,755.5 V751.5 Z" fill="#fff" stroke="#000" stroke-width="1.1"/><ellipse cx="200.7" cy="751.5" rx="3.8" ry="1.6" fill="#fff" stroke="#000" stroke-width="1.1"/><path d="M199.2,753.0 V756.5 M202.2,753.0 V756.5" stroke="#000" stroke-width="0.8"/><path d="M119.89999999999999,754.0 V731 Q122.1,729 124.3,731 V754.0" fill="#fff" stroke="#000" stroke-width="1.1"/><path d="M121.19999999999999,732 V754.0" stroke="#000" stroke-width="0.6"/><path d="M118.3,754.0 V758.0 Q122.1,760.5 125.89999999999999,758.0 V754.0 Z" fill="#fff" stroke="#000" stroke-width="1.1"/><ellipse cx="122.1" cy="754.0" rx="3.8" ry="1.6" fill="#fff" stroke="#000" stroke-width="1.1"/><path d="M120.6,755.5 V759.0 M123.6,755.5 V759.0" stroke="#000" stroke-width="0.8"/><path d="M145.70000000000002,774.9 V751.9 Q147.9,749.9 150.1,751.9 V774.9" fill="#fff" stroke="#000" stroke-width="1.1"/><path d="M147.00000000000003,752.9 V774.9" stroke="#000" stroke-width="0.6"/><path d="M144.1,774.9 V778.9 Q147.9,781.4 151.70000000000002,778.9 V774.9 Z" fill="#fff" stroke="#000" stroke-width="1.1"/><ellipse cx="147.9" cy="774.9" rx="3.8" ry="1.6" fill="#fff" stroke="#000" stroke-width="1.1"/><path d="M146.4,776.4 V779.9 M149.4,776.4 V779.9" stroke="#000" stroke-width="0.8"/></g>
<g stroke-linejoin="round"><path d="M370.4,109 L381.1,98.9 L391.9,87.5 L409.4,80.8 L424.1,77.4 L440.3,82.1 L459.1,92.8 L471.2,102.3 L472.5,129.1 L467.2,137.2 L440.3,153.3 L424.1,157.4 L410.7,150.6 L390.5,145.3 L373,133.2 L370.4,129.1 Z" fill="#fff" stroke="#000" stroke-width="1.3"/><path d="M391.9,87.5 L409.4,80.8 L424.1,77.4 L440.3,82.1 L459.1,92.8 L448.3,96.9 L434.9,100.9 L420,106 L409.4,111.7 L395.9,114.4 L392,100 Z" fill="#2a2a2a" stroke="#000" stroke-width="1"/><path d="M396.0,84.0 l-6.0,18.0 M401.2,83.8 l-6.0,18.0 M406.4,83.6 l-6.0,18.0 M411.6,83.4 l-6.0,18.0 M416.8,83.2 l-6.0,18.0 M422.0,83.0 l-6.0,18.0 M427.2,82.8 l-6.0,18.0 M432.4,82.6 l-6.0,18.0 M437.6,82.4 l-6.0,18.0 M442.8,82.2 l-6.0,18.0 M448.0,82.0 l-6.0,18.0 M453.2,81.8 l-6.0,18.0" stroke="#bbb" stroke-width="0.6"/><path d="M440,84 L458,94 M436,86 L454,96" stroke="#fff" stroke-width="0.7"/><path d="M370.4,109 L371.7,107.6 L389.2,114.4 L390.5,145.3 L373,133.2 L370.4,129.1 Z" fill="#fff" stroke="#000" stroke-width="1.2"/><path d="M371.7,107.6 L381.1,98.9 L395.9,104 L389.2,114.4 Z" fill="#fff" stroke="#000" stroke-width="1.1"/><path d="M377.1,110 V134 M381.1,111.5 V138 M385,113 V141" stroke="#000" stroke-width="1.3"/><path d="M372,108 L389,114.5 L389,118 L372,111.5 Z" fill="#222"/><rect x="368.5" y="116" width="2.2" height="6" fill="#000"/><path d="M389.2,114.4 L395.9,114.4 L409.4,111.7 L410.7,126.5 L410.7,150.6 L390.5,145.3 Z" fill="#fff" stroke="#000" stroke-width="1.1"/><path d="M390,116 h8 l4,4 v24 h-7 l-5,-4 Z" fill="#222" stroke="#000" stroke-width="0.8"/><path d="M402,114 l7,-2 v12 l-7,2 Z M402,140 l8,2 v8 l-8,-2 Z" fill="#333" stroke="#000" stroke-width="0.8"/><path d="M392,123 h3 v3 h-3 Z M392,130 h3 v4 h-3 Z" fill="#fff"/><ellipse cx="394" cy="134.5" rx="1.6" ry="2.4" fill="#fff" stroke="#000" stroke-width="0.8"/><path d="M400,120 h5 v6 h-5 Z M401,130 h7 v4 h-7 Z M402,138 h6 v8 h-6 Z" fill="#fff" stroke="#000" stroke-width="1"/><path d="M399,118 l4,-3 M405,127 v3 M400,136 h8 M397,128 l3,2" stroke="#000" stroke-width="1.3"/><path d="M392.5,89 Q395,86 399,87.5 L404,111 Q403,115 399.5,115.5 Z" fill="#fff" stroke="#000" stroke-width="1.2"/><path d="M399.5,90 L403,111" stroke="#000" stroke-width="1.8"/><path d="M410.7,126.5 L424.1,130.5 L424.1,157.4 L410.7,150.6 Z" fill="#fff" stroke="#000" stroke-width="1.1"/><path d="M413.5,128 V152 M418,129.5 V154.5" stroke="#000" stroke-width="0.9"/><path d="M409.4,111.7 L420,106 L434.9,100.9 L440.3,115.7 L424.1,130.5 L410.7,126.5 Z" fill="#fff" stroke="#000" stroke-width="1"/><path d="M414,92 V108 Q420,112 432,109 V95 Z" fill="#fff" stroke="#000" stroke-width="1.1"/><path d="M418,96 V110 M422,97 V111 M427,97 V110" stroke="#000" stroke-width="0.9"/><ellipse cx="426.2" cy="90.8" rx="9.4" ry="6" fill="#fff" stroke="#000" stroke-width="1.5"/><path d="M415.8,118 V124.5 Q422.8,128.5 429.8,124.5 V118 Z" fill="#fff" stroke="#000" stroke-width="1.1"/><path d="M418,120 v6 M421,121 v6.5 M424,121 v6.5 M427,120 v6" stroke="#000" stroke-width="0.8"/><ellipse cx="422.8" cy="117.8" rx="7" ry="4.3" fill="#fff" stroke="#000" stroke-width="1.4"/><ellipse cx="422.8" cy="117.3" rx="4" ry="2.2" fill="none" stroke="#000" stroke-width="0.8"/><path d="M430.9,103.6 L461.8,98.2 L471.2,103.6 L440.3,115.7 Z" fill="#fff" stroke="#000" stroke-width="1.1"/><path d="M436.2,106.3 L451,102.3 L455,109 L440.3,113 Z" fill="#fff" stroke="#000" stroke-width="1.1"/><path d="M440.3,115.7 L471.2,103.6 M440.3,115.7 V153.3 M436,112 V150 M438,114 V151.5 M465,107 V135" fill="none" stroke="#000" stroke-width="1"/><path d="M424.1,130.5 L436,126 M410,112 L430.9,103.6" stroke="#000" stroke-width="1"/><path d="M397.7,184.2 Q398,180 402,178.5 L412,175 L419,170 Q422,166 426,166 L432,164.3 Q437,163 440,166 L453,174 Q456,175.5 455.5,179 V186 Q455,188 452,189.5 L428,201 Q425,203.5 420,203 L417,203 Q413,203 411,201 L400,194 Q397.7,193 397.7,190 Z" fill="#fff" stroke="#000" stroke-width="1.2"/><path d="M397.7,184.2 Q398,180 402,178.5 L412,175 L419,170 Q422,166 426,166 L432,164.3 Q437,163 440,166 L453,174 Q456,175.5 455.5,179 Q455,181 452,182 L444,185.5 L430,191.5 Q427,195 422,196 Q416,196.5 414,194.5 L400,187.5 Q397.7,186.5 397.7,184.2 Z" fill="#fff" stroke="#000" stroke-width="1.1"/><ellipse cx="426.3" cy="182.5" rx="14.3" ry="8.6" fill="#fff" stroke="#000" stroke-width="1.5"/><path d="M413,186 Q426,178 440,185" fill="none" stroke="#000" stroke-width="1"/><path d="M399,187 V193 M403,189 V196 M414,195 V202 M417,196 V203 M421,196 V203 M449,184 V190 M452,182.5 V189 M434,189 V198" stroke="#000" stroke-width="1.5"/><path d="M401,182 l4,-2 l3,2 l4,-1 M404,185 l5,2 l3,-1 M416,190 l5,2 l3,-1 M440,168 l4,-2 l4,3 M446,174 l4,2 l3,-1 M444,180 l4,1 l4,-2 M420,173 l4,-2" fill="none" stroke="#000" stroke-width="1.6"/><ellipse cx="435" cy="166.5" rx="2" ry="1.3" fill="#fff" stroke="#000" stroke-width="1"/><ellipse cx="403.5" cy="183.5" rx="2" ry="1.3" fill="#fff" stroke="#000" stroke-width="1"/><ellipse cx="450" cy="178" rx="2" ry="1.3" fill="#fff" stroke="#000" stroke-width="1"/><polygon points="427.2,207.6 454.2,223.0 458.8,219.0 458.8,220.0 454.2,224.0 427.2,208.6" fill="#fff" stroke="#000" stroke-width="1.1"/><polygon points="427.2,207.6 432.7,204.4 458.8,219.0 454.2,223.0" fill="#fff" stroke="#000" stroke-width="1.1"/><ellipse cx="433.9" cy="208.2" rx="1.4" ry="1.0" fill="none" stroke="#000" stroke-width="0.9"/><ellipse cx="452.5" cy="218.8" rx="1.4" ry="1.0" fill="none" stroke="#000" stroke-width="0.9"/><polygon points="427.2,226.8 453.5,242.2 458.5,238.7 458.5,240.5 453.5,244.0 427.2,228.6" fill="#fff" stroke="#000" stroke-width="1.1"/><polygon points="427.2,226.8 433.2,223.8 458.5,238.7 453.5,242.2" fill="#fff" stroke="#000" stroke-width="1.1"/><ellipse cx="434.1" cy="227.6" rx="1.4" ry="1.0" fill="none" stroke="#000" stroke-width="0.9"/><ellipse cx="452.1" cy="238.2" rx="1.4" ry="1.0" fill="none" stroke="#000" stroke-width="0.9"/><polygon points="393.4,226.8 419.8,242.7 425.7,239.7 425.7,240.7 419.8,243.7 393.4,227.8" fill="#fff" stroke="#000" stroke-width="1.1"/><polygon points="393.4,226.8 398.9,224.3 425.7,239.7 419.8,242.7" fill="#fff" stroke="#000" stroke-width="1.1"/><ellipse cx="400.1" cy="227.9" rx="1.4" ry="1.0" fill="none" stroke="#000" stroke-width="0.9"/><ellipse cx="418.8" cy="238.9" rx="1.4" ry="1.0" fill="none" stroke="#000" stroke-width="0.9"/><polygon points="393.4,245.6 419.8,260.2 424.7,257.6 424.7,259.4 419.8,262.0 393.4,247.4" fill="#fff" stroke="#000" stroke-width="1.1"/><polygon points="393.4,245.6 398.9,242.7 424.7,257.6 419.8,260.2" fill="#fff" stroke="#000" stroke-width="1.1"/><ellipse cx="400.1" cy="246.4" rx="1.4" ry="1.0" fill="none" stroke="#000" stroke-width="0.9"/><ellipse cx="418.3" cy="256.7" rx="1.4" ry="1.0" fill="none" stroke="#000" stroke-width="0.9"/><path d="M333.6,140 V176" stroke="#000" stroke-width="0.9"/><path d="M332.4,204 V326 M334.8,204 V326" stroke="#000" stroke-width="0.8"/><rect x="332.4" y="143" width="2.4" height="8" fill="#fff" stroke="#000" stroke-width="0.8"/><path d="M331,176 h5.2 v5 l-0.6,1.5 v15 l0.6,1.5 v5 h-5.2 v-5 l0.6,-1.5 v-15 l-0.6,-1.5 Z" fill="#fff" stroke="#000" stroke-width="1"/><path d="M331,181 h5.2 M331,199 h5.2 M333.6,183 v14" stroke="#000" stroke-width="0.8"/><path d="M331.8,300 h3.6 M331.8,316 h3.6" stroke="#000" stroke-width="0.8"/><path d="M332.2,326 l1.4,7 l1.4,-7 Z" fill="#000" stroke="#000" stroke-width="0.6"/><path d="M381,349 L437,326 L471,349 L420,373 Z" fill="#fff" stroke="#000" stroke-width="1"/><path d="M385,351 L438,329 M416,370 L467,348 M381,349 v3 L420,376 v-3" fill="none" stroke="#000" stroke-width="0.9"/><ellipse cx="397" cy="353" rx="1.6" ry="1.2" fill="none" stroke="#000" stroke-width="0.9"/><ellipse cx="426" cy="366" rx="1.6" ry="1.2" fill="none" stroke="#000" stroke-width="0.9"/><ellipse cx="433" cy="334" rx="1.6" ry="1.2" fill="none" stroke="#000" stroke-width="0.9"/><ellipse cx="456" cy="344" rx="1.6" ry="1.2" fill="none" stroke="#000" stroke-width="0.9"/><path d="M401,289 Q416,304 433,331" fill="none" stroke="#000" stroke-width="9.5" stroke-linecap="round" stroke-linejoin="round"/><path d="M401,289 Q416,304 433,331" fill="none" stroke="#fff" stroke-width="7.2" stroke-linecap="round" stroke-linejoin="round"/><path d="M500,346 Q488,350 472,350 L450,356" fill="none" stroke="#000" stroke-width="9.5" stroke-linecap="round" stroke-linejoin="round"/><path d="M500,346 Q488,350 472,350 L450,356" fill="none" stroke="#fff" stroke-width="7.2" stroke-linecap="round" stroke-linejoin="round"/><path d="M366,305 L449,371" fill="none" stroke="#000" stroke-width="9.5" stroke-linecap="round" stroke-linejoin="round"/><path d="M366,305 L449,371" fill="none" stroke="#fff" stroke-width="7.2" stroke-linecap="round" stroke-linejoin="round"/><path d="M394,287 L357,306 Q350,310 351,318 L354,331 Q356,337 361,341 L415,377 Q424,382 433,378 L496,350 Q503,346 501,339 L487,291 Q485,284 479,280 L450,262 Q441,257 432,262 L396,286" fill="none" stroke="#000" stroke-width="9.5" stroke-linecap="round" stroke-linejoin="round"/><path d="M394,287 L357,306 Q350,310 351,318 L354,331 Q356,337 361,341 L415,377 Q424,382 433,378 L496,350 Q503,346 501,339 L487,291 Q485,284 479,280 L450,262 Q441,257 432,262 L396,286" fill="none" stroke="#fff" stroke-width="7.2" stroke-linecap="round" stroke-linejoin="round"/><path d="M-4.75,-1 Q0,2.5 4.75,-1" transform="translate(388,290) rotate(-28)" fill="none" stroke="#000" stroke-width="0.8"/><path d="M-4.75,-1 Q0,2.5 4.75,-1" transform="translate(400,284) rotate(-28)" fill="none" stroke="#000" stroke-width="0.8"/><path d="M-4.75,-1 Q0,2.5 4.75,-1" transform="translate(352,316) rotate(-80)" fill="none" stroke="#000" stroke-width="0.8"/><path d="M-4.75,-1 Q0,2.5 4.75,-1" transform="translate(360,340) rotate(-50)" fill="none" stroke="#000" stroke-width="0.8"/><path d="M-4.75,-1 Q0,2.5 4.75,-1" transform="translate(420,379) rotate(-10)" fill="none" stroke="#000" stroke-width="0.8"/><path d="M-4.75,-1 Q0,2.5 4.75,-1" transform="translate(500,341) rotate(-80)" fill="none" stroke="#000" stroke-width="0.8"/><path d="M-4.75,-1 Q0,2.5 4.75,-1" transform="translate(485,287) rotate(-70)" fill="none" stroke="#000" stroke-width="0.8"/><path d="M-4.75,-1 Q0,2.5 4.75,-1" transform="translate(441,259) rotate(0)" fill="none" stroke="#000" stroke-width="0.8"/><path d="M-4.75,-1 Q0,2.5 4.75,-1" transform="translate(369,308) rotate(40)" fill="none" stroke="#000" stroke-width="0.8"/><path d="M-4.75,-1 Q0,2.5 4.75,-1" transform="translate(446,368) rotate(40)" fill="none" stroke="#000" stroke-width="0.8"/><path d="M-4.75,-1 Q0,2.5 4.75,-1" transform="translate(432,329) rotate(55)" fill="none" stroke="#000" stroke-width="0.8"/><path d="M-4.75,-1 Q0,2.5 4.75,-1" transform="translate(474,350) rotate(95)" fill="none" stroke="#000" stroke-width="0.8"/><path d="M-4.75,-1 Q0,2.5 4.75,-1" transform="translate(489,349) rotate(95)" fill="none" stroke="#000" stroke-width="0.8"/><path d="M-4.75,-1 Q0,2.5 4.75,-1" transform="translate(411,371) rotate(-40)" fill="none" stroke="#000" stroke-width="0.8"/><path d="M-4.75,-1 Q0,2.5 4.75,-1" transform="translate(379,302) rotate(-28)" fill="none" stroke="#000" stroke-width="0.8"/><ellipse cx="491" cy="309" rx="1.1" ry="1.1" fill="#000"/><ellipse cx="497" cy="340" rx="1.1" ry="1.1" fill="#000"/><path d="M470.5,293 L477,292 L478,306 L473.5,307 Z" fill="#fff" stroke="#000" stroke-width="1.1"/><path d="M464,292 Q465,287 471,289 L471.5,297 Q466,299 464,296 Z" fill="#fff" stroke="#000" stroke-width="1.2"/><path d="M465,290 v6 M467.5,289 v8" stroke="#000" stroke-width="1.2"/><path d="M474,306 Q476,316 477.5,328 Q475.5,329 474.5,327 Q472,316 472.5,306" fill="#fff" stroke="#000" stroke-width="1.1"/><path d="M471.5,297 l6,1 M473,302 l5,1" stroke="#000" stroke-width="1.2"/><ellipse cx="500.3" cy="302.2" rx="3.2" ry="3" fill="#fff" stroke="#000" stroke-width="1"/><ellipse cx="500.3" cy="302.2" rx="1.2" ry="1.1" fill="#000"/><ellipse cx="515.8" cy="363.4" rx="3.2" ry="3" fill="#fff" stroke="#000" stroke-width="1"/><ellipse cx="515.8" cy="363.4" rx="1.2" ry="1.1" fill="#000"/><path d="M509,308.6 L518,299.6" stroke="#000" stroke-width="2.2" stroke-linecap="round"/><ellipse cx="509" cy="308.6" rx="1.8" ry="1.5" fill="#fff" stroke="#000" stroke-width="1"/><path d="M527.7,341.4 L538.4,326.6" stroke="#000" stroke-width="2.6" stroke-linecap="round"/><path d="M527.7,341.4 L536,330" stroke="#fff" stroke-width="1" /><path d="M487,379 L499,373 L502,379 L492,386 Z" fill="#fff" stroke="#000" stroke-width="1.1"/><path d="M487,379 L486,383 L491,388 L492,386 M490,384 L478,392 Q470,399 468.5,402 Q470,403.5 472,402 L485,391 L491,388" fill="#fff" stroke="#000" stroke-width="1.1"/><path d="M486,383 l5,-3 M489,386 l4,-2" stroke="#000" stroke-width="1.6"/><path d="M431.6,399.5 V392.2 Q433.3,390.4 435.0,392.2 V399.5" fill="#fff" stroke="#000" stroke-width="1.2"/><path d="M430.7,400.0 v2 l1,1.2 h3.2 l1,-1.2 v-2 Z" fill="#fff" stroke="#000" stroke-width="1"/><ellipse cx="433.3" cy="399.5" rx="4.3" ry="1.8" fill="#fff" stroke="#000" stroke-width="1.1"/><path d="M431.6,399.0 V393.2 M435.0,399.0 V393.2" stroke="#000" stroke-width="1.2"/><ellipse cx="433.3" cy="401.5" rx="1.2" ry="0.8" fill="#000"/><path d="M449.90000000000003,410.1 V402.9 Q451.6,401.09999999999997 453.3,402.9 V410.1" fill="#fff" stroke="#000" stroke-width="1.2"/><path d="M449.0,410.6 v2 l1,1.2 h3.2 l1,-1.2 v-2 Z" fill="#fff" stroke="#000" stroke-width="1"/><ellipse cx="451.6" cy="410.1" rx="4.3" ry="1.8" fill="#fff" stroke="#000" stroke-width="1.1"/><path d="M449.90000000000003,409.6 V403.9 M453.3,409.6 V403.9" stroke="#000" stroke-width="1.2"/><ellipse cx="451.6" cy="412.1" rx="1.2" ry="0.8" fill="#000"/><path d="M398.0,419.1 V410.5 Q399.7,408.7 401.4,410.5 V419.1" fill="#fff" stroke="#000" stroke-width="1.2"/><path d="M397.09999999999997,419.6 v2 l1,1.2 h3.2 l1,-1.2 v-2 Z" fill="#fff" stroke="#000" stroke-width="1"/><ellipse cx="399.7" cy="419.1" rx="4.3" ry="1.8" fill="#fff" stroke="#000" stroke-width="1.1"/><path d="M398.0,418.6 V411.5 M401.4,418.6 V411.5" stroke="#000" stroke-width="1.2"/><ellipse cx="399.7" cy="421.1" rx="1.2" ry="0.8" fill="#000"/><path d="M416.8,430.3 V421.7 Q418.5,419.9 420.2,421.7 V430.3" fill="#fff" stroke="#000" stroke-width="1.2"/><path d="M415.9,430.8 v2 l1,1.2 h3.2 l1,-1.2 v-2 Z" fill="#fff" stroke="#000" stroke-width="1"/><ellipse cx="418.5" cy="430.3" rx="4.3" ry="1.8" fill="#fff" stroke="#000" stroke-width="1.1"/><path d="M416.8,429.8 V422.7 M420.2,429.8 V422.7" stroke="#000" stroke-width="1.2"/><ellipse cx="418.5" cy="432.3" rx="1.2" ry="0.8" fill="#000"/><rect x="425.2" y="451.6" width="2.2" height="7.399999999999977" fill="#fff" stroke="#000" stroke-width="1"/><ellipse cx="426.3" cy="459.2" rx="1.7" ry="1.2" fill="#000"/><rect x="408.4" y="460.5" width="2.2" height="8.5" fill="#fff" stroke="#000" stroke-width="1"/><ellipse cx="409.5" cy="469.2" rx="1.7" ry="1.2" fill="#000"/><rect x="441.2" y="461" width="2.2" height="8" fill="#fff" stroke="#000" stroke-width="1"/><ellipse cx="442.3" cy="469.2" rx="1.7" ry="1.2" fill="#000"/><rect x="425.2" y="470" width="2.2" height="8.699999999999989" fill="#fff" stroke="#000" stroke-width="1"/><ellipse cx="426.3" cy="478.9" rx="1.7" ry="1.2" fill="#000"/><path d="M409,520 Q409,532 414,538 L418,545 Q424,548 432,546 L440,541 L455,532 Q458,528 456.5,524 Z" fill="#fff" stroke="#000" stroke-width="1.1"/><path d="M408,513 Q410,507 418,507 L445,509 Q452,511 456,518 Q458,524 455.7,526 L442,533 Q436,535.5 428,534 L414,527 Q408,522 408,513 Z" fill="#fff" stroke="#000" stroke-width="1.2"/><path d="M410,524 Q416,531 428,536.5 Q437,538.5 444,536 L456.5,529" fill="none" stroke="#000" stroke-width="1.1"/><path d="M412,516 Q420,524 430,526 Q440,526 447,521 M444,530 L455,524" fill="none" stroke="#000" stroke-width="1.6"/><path d="M412.7,503.6 V516.6 A13.6,5.4 0 0 0 439.90000000000003,516.6 V503.6 Z" fill="#fff" stroke="#000" stroke-width="1.2"/><ellipse cx="426.3" cy="503.6" rx="13.6" ry="5.4" fill="#fff" stroke="#000" stroke-width="1.2"/><ellipse cx="426.3" cy="504.6" rx="12.5" ry="4.3" fill="none" stroke="#000" stroke-width="1"/><ellipse cx="426.3" cy="507" rx="1.5" ry="0.9" fill="#000"/><ellipse cx="426.3" cy="510.5" rx="2.6" ry="1.4" fill="none" stroke="#000" stroke-width="1.1"/><path d="M413,515 Q426.3,522 439.6,515" fill="none" stroke="#000" stroke-width="1.6"/><path d="M406.2,510.6 V522.7 A2.3,1.3 0 0 0 410.8,522.7 V510.6 Z" fill="#fff" stroke="#000" stroke-width="1.1"/><ellipse cx="408.5" cy="510.6" rx="2.3" ry="1.3" fill="#fff" stroke="#000" stroke-width="1.1"/><path d="M416.5,522.7 V533.9000000000001 A2.8,1.3 0 0 0 422.1,533.9000000000001 V522.7 Z" fill="#fff" stroke="#000" stroke-width="1.1"/><ellipse cx="419.3" cy="522.7" rx="2.8" ry="1.3" fill="#fff" stroke="#000" stroke-width="1.1"/><path d="M438.0,531.1 V543.3000000000001 A2.8,1.3 0 0 0 443.6,543.3000000000001 V531.1 Z" fill="#fff" stroke="#000" stroke-width="1.1"/><ellipse cx="440.8" cy="531.1" rx="2.8" ry="1.3" fill="#fff" stroke="#000" stroke-width="1.1"/><path d="M453.0,524.6 V535.8000000000001 A2.3,1.3 0 0 0 457.6,535.8000000000001 V524.6 Z" fill="#fff" stroke="#000" stroke-width="1.1"/><ellipse cx="455.3" cy="524.6" rx="2.3" ry="1.3" fill="#fff" stroke="#000" stroke-width="1.1"/><path d="M408.5,513 v8 M419.3,525 v7 M440.8,533 v8 M455.3,527 v7" stroke="#000" stroke-width="1.4"/><rect x="423" y="538" width="6.1" height="16.5" rx="1.5" fill="#fff" stroke="#000" stroke-width="1.1"/><path d="M418,540 Q424,544 430,540" fill="none" stroke="#000" stroke-width="1"/><ellipse cx="428" cy="550.5" rx="0.9" ry="1.2" fill="#000"/><rect x="421.7" y="566.7" width="2.6" height="14.299999999999955" rx="0.8" fill="#fff" stroke="#000" stroke-width="1.2"/><path d="M420.6,580.5 h4.8 v2.2 l-1,1.2 h-2.8 l-1,-1.2 Z" fill="#fff" stroke="#000" stroke-width="1.2"/><path d="M420.4,580.5 h5.2" stroke="#000" stroke-width="1.5"/><rect x="406.7" y="575.1" width="2.6" height="14.399999999999977" rx="0.8" fill="#fff" stroke="#000" stroke-width="1.2"/><path d="M405.6,589 h4.8 v2.2 l-1,1.2 h-2.8 l-1,-1.2 Z" fill="#fff" stroke="#000" stroke-width="1.2"/><path d="M405.4,589 h5.2" stroke="#000" stroke-width="1.5"/><rect x="442.7" y="573.7" width="2.6" height="14.399999999999977" rx="0.8" fill="#fff" stroke="#000" stroke-width="1.2"/><path d="M441.6,587.6 h4.8 v2.2 l-1,1.2 h-2.8 l-1,-1.2 Z" fill="#fff" stroke="#000" stroke-width="1.2"/><path d="M441.4,587.6 h5.2" stroke="#000" stroke-width="1.5"/><rect x="418.8" y="587.7" width="2.6" height="14.399999999999977" rx="0.8" fill="#fff" stroke="#000" stroke-width="1.2"/><path d="M417.70000000000005,601.6 h4.8 v2.2 l-1,1.2 h-2.8 l-1,-1.2 Z" fill="#fff" stroke="#000" stroke-width="1.2"/><path d="M417.5,601.6 h5.2" stroke="#000" stroke-width="1.5"/><path d="M361.3,592 Q359.8,585 361.5,582.5 Q365,579 369,582.5 Q372,586 371.8,591 L371.6,596.5" fill="none" stroke="#000" stroke-width="1.7"/><path d="M359.5,593.2 L373,600.2 L372,602.3 L358.7,595.5 Z" fill="#fff" stroke="#000" stroke-width="1.1"/><ellipse cx="360" cy="594.3" rx="1.8" ry="1.6" fill="#000"/><path d="M367.5,598 l0.5,3 l2,0" fill="none" stroke="#000" stroke-width="1.3"/><path d="M417.8,636 V650.5 M417.8,662 V690 M417.8,703 V727.7 M417.8,741.5 V766.4 M417.8,780.5 V806 M434.7,636 V670.6 M420,636 V627 M432.6,636 V627 M417.8,636 Q426,640 434.7,636 Q426,632 417.8,636 M417.8,650.5 Q408,649 399.6,650.2 L417.8,662 M431.9,670.6 L452.2,684.6 C440,696 425,702.5 410,703 C396,703 385,700 384.8,695.8 C385,690 395,688.5 403,688.6 C410,688.8 415,689.5 417.8,690.2 M405.2,695.8 C418,692 428,684 431.9,670.6 M434.7,657.2 C455,665 467,680 467,696 C467,715 445,737 410,741 C396,742 385,740 385.5,734.7 C386,729 397,727.5 405,727.6 C411,727.7 415,727.7 417.8,727.7 M405.7,733.9 C420,730 432,720 433.8,698.8 M461,714.6 C465,722 466.5,728 466.5,734 C466.5,755 445,777 410,780.5 C396,781 385,778.5 385.5,773.5 C386,768 397,766.5 405,766.6 C411,766.7 415,766.7 417.8,766.4 M406,773 C420,769 432,759 434,738 M461,753.5 C465,760 466.5,767 466.5,773 C466.5,790 455,803 433,809.5 C420,813 408,815 397.8,816.3 M418,805.8 C430,800 435,790 434,777 M417.8,806 C410,810 402,813 397.8,815.5" fill="none" stroke="#000" stroke-width="1.1"/><path d="M434.6,815.4 L463.6,800.5 L465,803.5 L436,818.4 Z M463.6,800.5 L462,794" fill="#fff" stroke="#000" stroke-width="0.9"/><ellipse cx="426.3" cy="626.5" rx="6.3" ry="2.8" fill="#fff" stroke="#000" stroke-width="1.3"/><ellipse cx="426.3" cy="626.8" rx="3.5" ry="1.6" fill="none" stroke="#000" stroke-width="1"/><path d="M424,817 Q421,824 425,831 L426,836 L427.5,830 Q427,824 431,819 M421,824 l8,-2 M422,829 l6,-2" fill="none" stroke="#000" stroke-width="1"/><ellipse cx="396" cy="817" rx="2.2" ry="1.8" fill="#000"/><path d="M389,816 l4,-3 l6,1 l-1,4 Z" fill="none" stroke="#000" stroke-width="1"/><ellipse cx="410" cy="815.5" rx="1.5" ry="1.3" fill="#000"/></g>
<g stroke-linejoin="round"><path d="M721,77 Q713,73 705,78 L677,94 Q669,98 666,107 L648,150 Q645,160 652,166 L684,194 Q692,201 704,203 L728,205 Q736,205 742,201 L772,178 L805,140 Q811,132 805,126 L786,110 Q778,102 770,99 L735,80 Q728,76 721,77" fill="none" stroke="#000" stroke-width="8.5" stroke-linecap="round" stroke-linejoin="round"/><path d="M721,77 Q713,73 705,78 L677,94 Q669,98 666,107 L648,150 Q645,160 652,166 L684,194 Q692,201 704,203 L728,205 Q736,205 742,201 L772,178 L805,140 Q811,132 805,126 L786,110 Q778,102 770,99 L735,80 Q728,76 721,77" fill="none" stroke="#fff" stroke-width="6.2" stroke-linecap="round" stroke-linejoin="round"/><path d="M-4.25,-1 Q0,2.5 4.25,-1" transform="translate(673,97) rotate(60)" fill="none" stroke="#000" stroke-width="0.8"/><path d="M-4.25,-1 Q0,2.5 4.25,-1" transform="translate(650,158) rotate(10)" fill="none" stroke="#000" stroke-width="0.8"/><path d="M-4.25,-1 Q0,2.5 4.25,-1" transform="translate(690,197) rotate(-40)" fill="none" stroke="#000" stroke-width="0.8"/><path d="M-4.25,-1 Q0,2.5 4.25,-1" transform="translate(725,204) rotate(-90)" fill="none" stroke="#000" stroke-width="0.8"/><path d="M-4.25,-1 Q0,2.5 4.25,-1" transform="translate(803,138) rotate(40)" fill="none" stroke="#000" stroke-width="0.8"/><path d="M-4.25,-1 Q0,2.5 4.25,-1" transform="translate(782,106) rotate(-40)" fill="none" stroke="#000" stroke-width="0.8"/><path d="M-4.25,-1 Q0,2.5 4.25,-1" transform="translate(737,81) rotate(-60)" fill="none" stroke="#000" stroke-width="0.8"/><path d="M-4.25,-1 Q0,2.5 4.25,-1" transform="translate(662,112) rotate(70)" fill="none" stroke="#000" stroke-width="0.8"/><path d="M-4.25,-1 Q0,2.5 4.25,-1" transform="translate(756,191) rotate(50)" fill="none" stroke="#000" stroke-width="0.8"/><path d="M-4.25,-1 Q0,2.5 4.25,-1" transform="translate(795,122) rotate(-40)" fill="none" stroke="#000" stroke-width="0.8"/><path d="M681,123 L712,102 L745,100 L768,110 L775,127 V170 Q772,177 765,180 L730,187 L712,180 L690,172 L684,150 Z" fill="#fff" stroke="#000" stroke-width="1.2"/><path d="M681,123 L712,103 L717,107 L717,126 L706,141 L686,142 Z" fill="#1a1a1a" stroke="#000" stroke-width="1"/><path d="M687,122 l20,-12 M689,127 l22,-13 M692,131 l20,-12 M695,135 l18,-11 M686,137 l10,-6" stroke="#777" stroke-width="0.8"/><path d="M681,123 L686,142 L684,150 L688,168 L684,160 L680,140 Z" fill="#1a1a1a" stroke="#000" stroke-width="1"/><path d="M686,142 L706,141 L712,148 L712,174 L690,172 L684,150 Z" fill="#666" stroke="#000" stroke-width="1.1"/><path d="M688,146 h8 v6 h-8 Z M705,150 h5 v8 h-5 Z M689,166 h6 v4 h-6 Z" fill="#fff" stroke="#000" stroke-width="0.8"/><path d="M690,150 l14,-2 M698,146 v24 M704,160 v12 M686,156 l6,2" fill="none" stroke="#000" stroke-width="1.2"/><ellipse cx="700" cy="160" rx="4.5" ry="5" fill="#222" stroke="#000" stroke-width="1"/><ellipse cx="700" cy="160" rx="1.6" ry="2" fill="#fff"/><path d="M687,165 l8,4 M691,156 l-4,2" stroke="#000" stroke-width="1.5"/><path d="M713,101 L743,100 L747,104 L718,106 Z" fill="#333" stroke="#000" stroke-width="1"/><path d="M720,102 v3 M726,101.5 v3 M732,101.5 v3 M738,101.5 v3" stroke="#fff" stroke-width="1.2"/><path d="M710,141 L737,141 L737,154 L712,156 Z" fill="#333" stroke="#000" stroke-width="1"/><path d="M714,145 h4 M720,145 h4 M726,145 h4 M716,150 h4 M722,150 h4 M728,150 h4" stroke="#fff" stroke-width="1.3"/><path d="M730,150 L775,127 M738,156 V185 M746,152 V183 M756,146 V181 M765,141 V178" fill="none" stroke="#000" stroke-width="1"/><path d="M740,104 L756,102 L760,112 L744,114 Z" fill="#fff" stroke="#000" stroke-width="1.1"/><rect x="716" y="116" width="12" height="22" fill="#fff" stroke="#000" stroke-width="1"/><ellipse cx="727.5" cy="116" rx="11" ry="7.2" fill="#fff" stroke="#000" stroke-width="1.5"/><rect x="733" y="124" width="5" height="20" fill="#fff" stroke="#000" stroke-width="1.1"/><path d="M754,125 V133 Q761,137 768,133 V125 Z" fill="#fff" stroke="#000" stroke-width="1"/><ellipse cx="761" cy="125" rx="7" ry="4" fill="#fff" stroke="#000" stroke-width="1.4"/><path d="M740,126 l4,12 M745,128 l4,12 M749,130 l3,8" stroke="#000" stroke-width="1.3"/><path d="M712,182 L740,195 L770,182 L760,176 L730,188 Z" fill="#fff" stroke="#000" stroke-width="1"/><path d="M714,185 L738,199 M736,197 L768,185" stroke="#000" stroke-width="1.2"/><path d="M717,88 L722,86 L724,96 L719,98 Z M723,90 l4,14" fill="#fff" stroke="#000" stroke-width="1.1"/><ellipse cx="734" cy="80" rx="2" ry="1.6" fill="#fff" stroke="#000" stroke-width="1"/><path d="M772,117 l4,8 l3,-2 l2,8 M778,125 l5,6" fill="none" stroke="#000" stroke-width="1.3"/><path d="M646,160 Q660,159 686,164" fill="none" stroke="#000" stroke-width="8.5" stroke-linecap="round" stroke-linejoin="round"/><path d="M646,160 Q660,159 686,164" fill="none" stroke="#fff" stroke-width="6.2" stroke-linecap="round" stroke-linejoin="round"/><path d="M688,196 L790,134 Q798,131 806,137" fill="none" stroke="#000" stroke-width="10" stroke-linecap="round" stroke-linejoin="round"/><path d="M688,196 L790,134 Q798,131 806,137" fill="none" stroke="#fff" stroke-width="7.7" stroke-linecap="round" stroke-linejoin="round"/><path d="M-4.0,-1 Q0,2.5 4.0,-1" transform="translate(688,163) rotate(-85)" fill="none" stroke="#000" stroke-width="0.8"/><path d="M-4.0,-1 Q0,2.5 4.0,-1" transform="translate(725,172) rotate(58)" fill="none" stroke="#000" stroke-width="0.8"/><path d="M-4.0,-1 Q0,2.5 4.0,-1" transform="translate(780,138) rotate(60)" fill="none" stroke="#000" stroke-width="0.8"/><path d="M712,183 L722,200" fill="none" stroke="#000" stroke-width="6.5" stroke-linecap="round" stroke-linejoin="round"/><path d="M712,183 L722,200" fill="none" stroke="#fff" stroke-width="4.2" stroke-linecap="round" stroke-linejoin="round"/><path d="M755,175 L770,192" fill="none" stroke="#000" stroke-width="6.5" stroke-linecap="round" stroke-linejoin="round"/><path d="M755,175 L770,192" fill="none" stroke="#fff" stroke-width="4.2" stroke-linecap="round" stroke-linejoin="round"/></g>
</svg>
</body></html>
